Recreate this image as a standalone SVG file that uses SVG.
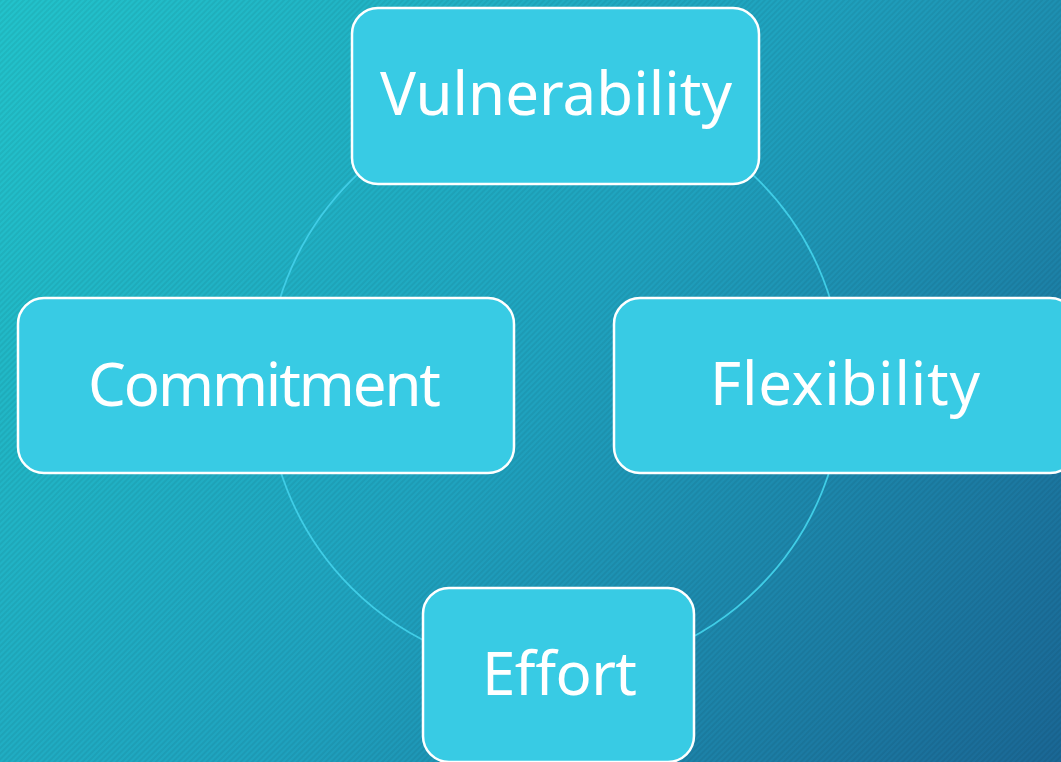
<svg xmlns="http://www.w3.org/2000/svg" width="1061" height="762" viewBox="0 0 1061 762">
  <defs>
    <linearGradient id="bg" x1="0" y1="0" x2="1061" y2="762" gradientUnits="userSpaceOnUse">
      <stop offset="0" stop-color="#22C3CB"/>
      <stop offset="0.5" stop-color="#1FA3BF"/>
      <stop offset="1" stop-color="#1A6795"/>
    </linearGradient>
    <pattern id="hatch" width="4" height="4" patternUnits="userSpaceOnUse" patternTransform="rotate(45)">
      <rect x="0" y="0" width="2" height="4" fill="#000" fill-opacity="0.06"/>
    </pattern>
  </defs>
  <style>
    .box { fill: #38CBE4; stroke: #FFFFFF; stroke-width: 2.5; }
    .lbl { font-family: "Noto Sans", "Open Sans", sans-serif; font-size: 60px; fill: #FFFFFF; text-anchor: middle; }
    .ring { fill: none; stroke: #40CDE6; stroke-width: 1.8; }
  </style>
  <rect x="0" y="0" width="1061" height="762" fill="url(#bg)"/>
  <rect x="0" y="0" width="1061" height="762" fill="url(#hatch)"/>
  <g id="connectors">
    <circle class="ring" cx="555" cy="384" r="288"/>
  </g>
  <g id="node-vulnerability">
    <rect class="box" x="352" y="8" width="407" height="176" rx="26"/>
    <text class="lbl" x="556" y="115" textLength="352">Vulnerability</text>
  </g>
  <g id="node-commitment">
    <rect class="box" x="18" y="298" width="496" height="175" rx="26"/>
    <text class="lbl" x="264.5" y="406" textLength="353">Commitment</text>
  </g>
  <g id="node-flexibility">
    <rect class="box" x="614" y="298" width="462" height="175" rx="26"/>
    <text class="lbl" x="845" y="405" textLength="270">Flexibility</text>
  </g>
  <g id="node-effort">
    <rect class="box" x="423" y="588" width="271" height="174" rx="26"/>
    <text class="lbl" x="559.5" y="695" textLength="155">Effort</text>
  </g>
</svg>
